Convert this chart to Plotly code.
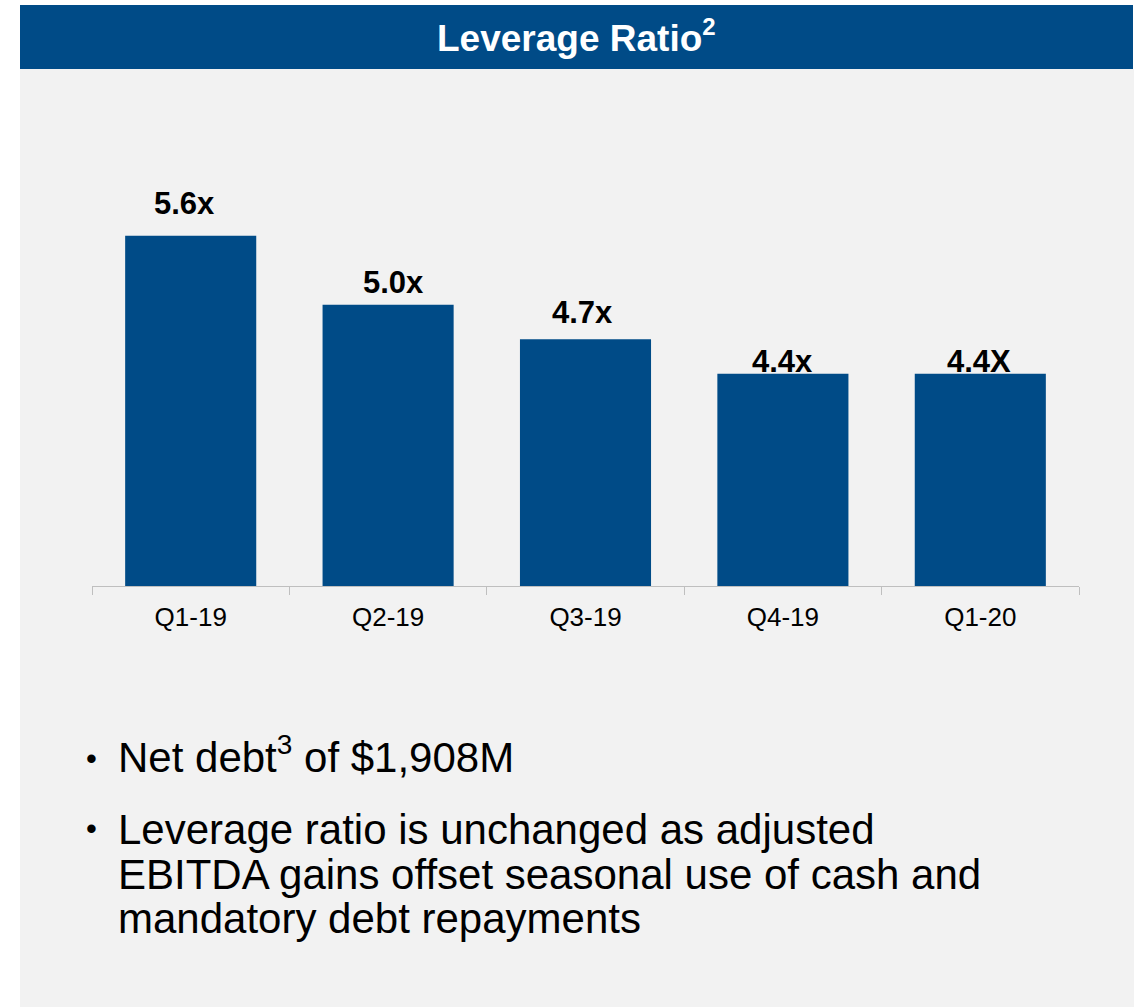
import plotly.graph_objects as go

# Leverage ratio by quarter
quarters = ["Q1-19", "Q2-19", "Q3-19", "Q4-19", "Q1-20"]
leverage = [5.6, 5.0, 4.7, 4.4, 4.4]
value_labels = ["5.6x", "5.0x", "4.7x", "4.4x", "4.4X"]

title_text = "Leverage Ratio<sup><span style='font-size:24px'>2</span></sup>"
bullets = [
    ["Net debt<sup><span style='font-size:28px'>3</span></sup> of $1,908M"],
    ["Leverage ratio is unchanged as adjusted",
     "EBITDA gains offset seasonal use of cash and",
     "mandatory debt repayments"],
]

# Figure geometry (pixels)
W, H = 1141, 1007
BLUE = "#004b87"
PANEL = "#f2f2f2"
FONT = "Liberation Sans, Arial, sans-serif"

# label nudges in pixels (x, y) relative to each bar top
label_nudge = [(-6, 32), (5, 22), (-3, 27), (0, 12), (-1, 12)]


def px(x):
    return x / W


def py(y):
    return 1 - y / H


fig = go.Figure()
fig.add_trace(go.Bar(
    x=quarters,
    y=leverage,
    marker=dict(color=BLUE, line=dict(width=0)),
    hoverinfo="skip",
))

annotations = []
for q, v, lab, (dx, dy) in zip(quarters, leverage, value_labels, label_nudge):
    annotations.append(dict(
        x=q, y=v, xref="x", yref="y", text=f"<b>{lab}</b>",
        showarrow=False, xanchor="center", yanchor="middle",
        xshift=dx, yshift=dy,
        font=dict(family=FONT, size=31, color="#000000"),
    ))

# header title
annotations.append(dict(
    x=px(576.5), y=py(36), xref="paper", yref="paper",
    text=f"<b>{title_text}</b>", showarrow=False,
    xanchor="center", yanchor="middle",
    font=dict(family=FONT, size=37, color="#ffffff"),
))

# bullet list: (text centre of each wrapped line, bullet centre)
line_centers = [[755], [829, 874, 918]]
bullet_centers = [758, 828]
for lines, centers, bc in zip(bullets, line_centers, bullet_centers):
    annotations.append(dict(
        x=px(84), y=py(bc), xref="paper", yref="paper",
        text="•", showarrow=False, xanchor="left", yanchor="middle",
        font=dict(family=FONT, size=31, color="#000000"),
    ))
    for line, cy in zip(lines, centers):
        annotations.append(dict(
            x=px(116), y=py(cy), xref="paper", yref="paper",
            text=line, showarrow=False, xanchor="left", yanchor="middle",
            font=dict(family=FONT, size=42, color="#000000"),
        ))

shapes = [
    dict(type="rect", xref="paper", yref="paper", layer="below",
         x0=px(20), x1=px(1134), y0=py(H), y1=py(69),
         fillcolor=PANEL, line=dict(width=0)),
    dict(type="rect", xref="paper", yref="paper", layer="below",
         x0=px(20), x1=px(1133), y0=py(69), y1=py(5),
         fillcolor=BLUE, line=dict(width=0)),
]

fig.update_layout(
    width=W, height=H, autosize=False,
    margin=dict(l=0, r=0, t=0, b=0),
    paper_bgcolor="#ffffff",
    plot_bgcolor="rgba(0,0,0,0)",
    showlegend=False,
    bargap=0.336,
    annotations=annotations,
    shapes=shapes,
    xaxis=dict(
        domain=[px(92), px(1079)],
        type="category",
        showline=True, linecolor="#bfbfbf", linewidth=1,
        ticks="outside", tickson="boundaries", ticklen=8,
        tickcolor="#bfbfbf", tickwidth=1,
        tickfont=dict(family=FONT, size=26, color="#000000"),
        ticklabelstandoff=8,
        showgrid=False, zeroline=False, fixedrange=True,
    ),
    yaxis=dict(
        domain=[py(586), py(130)],
        range=[2.556, 6.518],
        visible=False, showgrid=False, zeroline=False, fixedrange=True,
    ),
)

fig.write_html("out.html", config={"displayModeBar": False})
